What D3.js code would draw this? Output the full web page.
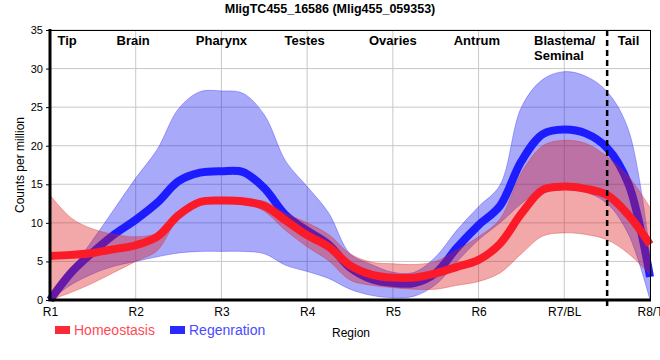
<!DOCTYPE html>
<html><head><meta charset="utf-8">
<script src="https://cdn.jsdelivr.net/npm/d3@7"></script>
<style>body{margin:0;background:#fff}svg{display:block;font-family:Arial,"Liberation Sans",sans-serif}</style>
</head><body><svg id="c" width="660" height="360"></svg>
<script>
const title = "MligTC455_16586 (Mlig455_059353)";
const tickLabels = ["R1","R2","R3","R4","R5","R6","R7/BL","R8/T"];
const regionNames = ["Tip","Brain","Pharynx","Testes","Ovaries","Antrum","Blastema/|Seminal","Tail"];
const regionPos = [1.2,1.97,3.0,3.97,5.0,5.98,7.0,7.75];
const yTicks = [0,5,10,15,20,25,30,35];
const positions = [1,1.25,1.5,1.75,2,2.25,2.5,2.75,3,3.25,3.5,3.75,4,4.25,4.5,4.75,5,5.25,5.5,5.75,6,6.25,6.5,6.75,7,7.25,7.5,7.75,8];
const homeoLine  = [5.7,5.85,6.1,6.6,7.1,8.2,11.0,12.7,12.9,12.8,12.2,10.3,8.4,6.9,4.5,3.3,2.9,2.9,3.45,4.3,5.2,7.3,11.2,14.3,14.7,14.4,13.6,11.0,7.2];
const homeoUpper = [13.6,10.6,9.2,8.5,8.2,8.7,11.4,13.0,13.1,13.0,12.8,11.2,10.0,8.5,6.0,4.9,4.7,4.6,5.0,6.5,8.2,10.5,16.5,20.0,20.7,20.3,18.6,16.0,12.0];
const homeoLower = [0,1.0,2.2,3.6,5.0,6.4,10.6,12.4,12.7,12.6,11.5,9.0,6.9,5.1,2.6,1.9,1.6,1.4,1.4,1.9,2.4,3.5,6.0,8.3,8.7,8.5,7.8,6.0,3.3];
const regenLine  = [0,3.6,6.2,8.5,10.4,12.6,15.4,16.5,16.7,16.6,14.5,11.0,9.0,7.2,4.2,2.7,2.2,2.2,3.5,6.8,9.7,12.2,18.0,21.5,22.1,21.6,19.7,15.0,3.0];
const regenUpper = [0,3.9,7.8,11.8,15.8,19.5,24.8,27.0,27.1,26.8,24.0,18.0,14.7,11.3,6.0,4.6,3.6,3.6,5.6,9.1,12.1,14.9,25.0,28.6,29.6,29.0,27.0,22.0,6.0];
const regenLower = [0,2.0,3.4,4.4,5.0,5.6,6.1,6.3,6.3,6.3,6.0,4.5,3.7,2.8,1.4,0.6,0.3,0.5,2.0,5.0,7.8,10.0,12.5,14.5,14.6,14.0,12.5,8.5,0];
const boundary = 7.5;
const seriesNames = ["Homeostasis","Regenration"];

const svg = d3.select("#c");
const x = d3.scaleLinear().domain([1,8]).range([50,650]);
const y = d3.scaleLinear().domain([0,35]).range([300,30]);
const curve = d3.curveCatmullRom.alpha(0.5);

// grid
svg.append("g").selectAll("line").data(yTicks.slice(1)).join("line")
  .attr("x1",50).attr("x2",650).attr("y1",d=>y(d)).attr("y2",d=>y(d))
  .attr("stroke","#c8c8c8").attr("stroke-width",1);
svg.append("g").selectAll("line").data(d3.range(2,8)).join("line")
  .attr("y1",30).attr("y2",300).attr("x1",d=>x(d)).attr("x2",d=>x(d))
  .attr("stroke","#c8c8c8").attr("stroke-width",1);

const mk = (arr)=>positions.map((p,i)=>({x:p,v:arr[i]}));
const area = (lo,hi)=>d3.area().curve(curve)
  .x((d,i)=>x(positions[i])).y0((d,i)=>y(lo[i])).y1((d,i)=>y(hi[i]));
const line = d3.line().curve(curve).x(d=>x(d.x)).y(d=>y(d.v));

function band(lo,hi,fill,stroke){
  svg.append("path").attr("d",area(lo,hi)(positions))
    .attr("fill",fill).attr("stroke","none");
  const l = d3.line().curve(curve);
  [lo,hi].forEach(a=>svg.append("path")
    .attr("d",l(positions.map((p,i)=>[x(p),y(a[i])])))
    .attr("fill","none").attr("stroke",stroke).attr("stroke-width",0.8));
}
band(regenLower,regenUpper,"rgba(10,10,240,0.35)","rgba(40,40,255,0.45)");
svg.append("path").datum(mk(regenLine)).attr("d",line).attr("fill","none")
  .attr("stroke","#1c1cff").attr("stroke-width",8);
band(homeoLower,homeoUpper,"rgba(220,25,25,0.38)","rgba(220,40,40,0.45)");
svg.append("path").datum(mk(homeoLine)).attr("d",line).attr("fill","none")
  .attr("stroke","#fa1a28").attr("stroke-width",8);

// dashed boundary
svg.append("line").attr("x1",x(boundary)).attr("x2",x(boundary)).attr("y1",30).attr("y2",306)
  .attr("stroke","#000").attr("stroke-width",2.5).attr("stroke-dasharray","6,4");

// frame
svg.append("line").attr("x1",50).attr("x2",650).attr("y1",30.5).attr("y2",30.5).attr("stroke","#000").attr("stroke-width",1);
svg.append("line").attr("x1",650.5).attr("x2",650.5).attr("y1",30).attr("y2",300).attr("stroke","#000").attr("stroke-width",1);

// axes
const yAxis = d3.axisLeft(y).tickValues(yTicks).tickSize(4).tickPadding(3);
const gy = svg.append("g").attr("transform","translate(50,0)").call(yAxis);
gy.select(".domain").attr("stroke-width",3).attr("d","M0,29V301");
gy.selectAll("text").attr("font-size",11).attr("fill","#000").attr("font-family","Arial, Liberation Sans");
const xAxis = d3.axisBottom(x).tickValues(d3.range(1,9)).tickFormat((d,i)=>tickLabels[i]).tickSize(0).tickPadding(7);
const gx = svg.append("g").attr("transform","translate(0,300)").call(xAxis);
gx.select(".domain").attr("stroke-width",3).attr("d","M48.5,0H651");
gx.selectAll("text").attr("font-size",12).attr("fill","#000").attr("font-family","Arial, Liberation Sans");

// region labels
regionNames.forEach((n,i)=>{
  const parts = n.split("|");
  const t = svg.append("text").attr("x",x(regionPos[i])).attr("y",45)
    .attr("text-anchor",parts.length>1?"start":"middle")
    .attr("font-size",13).attr("font-weight","bold").attr("fill","#000");
  if(parts.length>1){
    parts.forEach((p,j)=>t.append("tspan").attr("x",534).attr("dy",j?15:0).text(p));
  } else t.text(n);
});

// title
svg.append("text").attr("x",330).attr("y",13).attr("text-anchor","middle")
  .attr("font-size",12.5).attr("font-weight","bold").text(title);
// axis titles
svg.append("text").attr("transform","translate(24,165) rotate(-90)").attr("text-anchor","middle")
  .attr("font-size",12).text("Counts per million");
svg.append("text").attr("x",351).attr("y",337).attr("text-anchor","middle")
  .attr("font-size",12).text("Region");

// legend
const leg = [{n:seriesNames[0],c:"#fa2a36",t:"#ff4a55",x:55},{n:seriesNames[1],c:"#2a2aff",t:"#4a4aff",x:170}];
leg.forEach(l=>{
  svg.append("rect").attr("x",l.x).attr("y",326).attr("width",15).attr("height",8).attr("fill",l.c);
  svg.append("text").attr("x",l.x+19).attr("y",335).attr("font-size",14).attr("fill",l.t).text(l.n);
});
</script></body></html>
